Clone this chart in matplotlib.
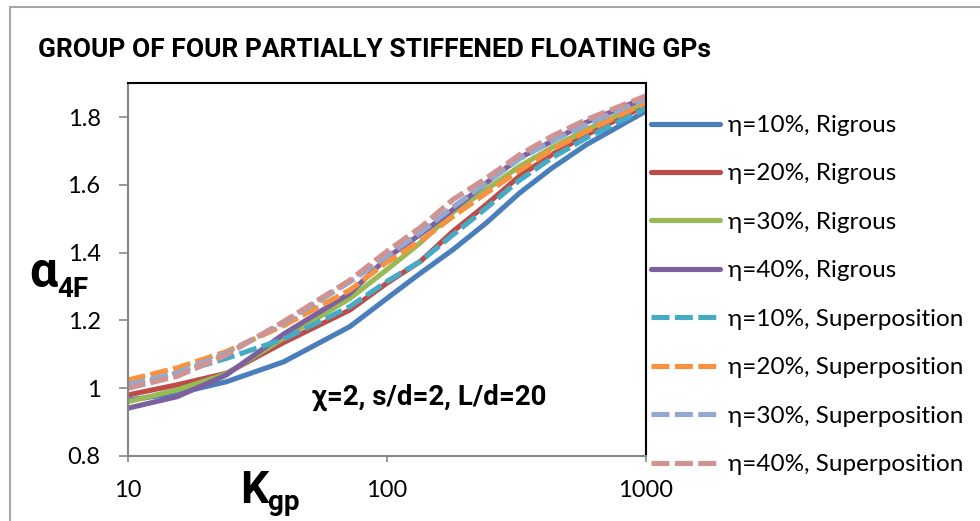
import matplotlib
matplotlib.use("Agg")
import matplotlib.pyplot as plt
from matplotlib.patches import Rectangle
from matplotlib.ticker import FixedLocator, NullLocator, FixedFormatter

W, H = 980, 521

# data
K = [10, 15.5, 24, 40, 72, 100, 135, 180, 242, 325, 434, 589, 1000]

eta10_rig = [0.965, 0.985, 1.019, 1.078, 1.182, 1.265, 1.34, 1.409, 1.488, 1.576, 1.65, 1.719, 1.818]
eta20_rig = [0.98, 1.01, 1.044, 1.135, 1.231, 1.31, 1.375, 1.463, 1.542, 1.626, 1.69, 1.748, 1.835]
eta30_rig = [0.96, 0.995, 1.042, 1.148, 1.265, 1.35, 1.43, 1.52, 1.586, 1.655, 1.71, 1.763, 1.845]
eta40_rig = [0.941, 0.975, 1.039, 1.16, 1.28, 1.385, 1.455, 1.527, 1.606, 1.68, 1.729, 1.785, 1.858]

eta10_sup = [1.0, 1.045, 1.088, 1.145, 1.241, 1.315, 1.375, 1.453, 1.532, 1.614, 1.68, 1.739, 1.826]
eta20_sup = [1.024, 1.06, 1.108, 1.185, 1.29, 1.372, 1.435, 1.507, 1.576, 1.643, 1.704, 1.758, 1.843]
eta30_sup = [1.01, 1.045, 1.103, 1.193, 1.314, 1.39, 1.46, 1.535, 1.606, 1.677, 1.729, 1.778, 1.855]
eta40_sup = [1.0, 1.035, 1.098, 1.197, 1.319, 1.404, 1.475, 1.557, 1.62, 1.689, 1.744, 1.793, 1.863]

labels = ["η=10%, Rigrous", "η=20%, Rigrous", "η=30%, Rigrous", "η=40%, Rigrous",
          "η=10%, Superposition", "η=20%, Superposition",
          "η=30%, Superposition", "η=40%, Superposition"]
series = [eta10_rig, eta20_rig, eta30_rig, eta40_rig,
          eta10_sup, eta20_sup, eta30_sup, eta40_sup]
colors = ["#4a7ebb", "#be4b48", "#98b954", "#7d60a0",
          "#46aac5", "#f69240", "#93a9cf", "#d09392"]

xticks = [10, 100, 1000]
yticks = [0.8, 1.0, 1.2, 1.4, 1.6, 1.8]
yticklabels = ["0.8", "1", "1.2", "1.4", "1.6", "1.8"]

reg = ["Lato", "DejaVu Sans"]
narrow = ["Roboto", "DejaVu Sans"]


def fx(px):
    return px / W


def fy(py):
    return 1 - py / H


fig = plt.figure(figsize=(W / 100, H / 100), dpi=100)
fig.patch.set_facecolor("white")

# outer chart border
fig.patches.append(Rectangle((fx(10), fy(560)), fx(1000), fy(7) - fy(560),
                             transform=fig.transFigure, fill=False,
                             edgecolor="#a6a6a6", lw=1.5))

ax = fig.add_axes([fx(127.7), fy(456), fx(646) - fx(127.7), fy(83.3) - fy(456)])
ax.set_xscale("log")
ax.set_xlim(10, 1000)
ax.set_ylim(0.8, 1.9)

for i, (vals, lab, col) in enumerate(zip(series, labels, colors)):
    if i < 4:
        ax.plot(K, vals, color=col, lw=3.7, label=lab, solid_capstyle="round",
                solid_joinstyle="round")
    else:
        ax.plot(K, vals, color=col, lw=3.7, label=lab, linestyle=(0, (3.5, 1.05)),
                dash_capstyle="butt", dash_joinstyle="round")

ax.xaxis.set_major_locator(FixedLocator(xticks))
ax.xaxis.set_major_formatter(FixedFormatter([str(v) for v in xticks]))
ax.xaxis.set_minor_locator(NullLocator())
ax.set_yticks(yticks)
ax.set_yticklabels(yticklabels)

for s in ["left", "bottom"]:
    ax.spines[s].set_color("#868686")
    ax.spines[s].set_linewidth(1.5)
for s in ["top", "right"]:
    ax.spines[s].set_color("black")
    ax.spines[s].set_linewidth(1.5)

ax.tick_params(axis="both", direction="out", color="#868686", width=1.2,
               labelsize=17, colors="black")
ax.tick_params(axis="y", length=6.5, pad=13)
ax.tick_params(axis="x", length=4, pad=13)
for t in ax.get_xticklabels() + ax.get_yticklabels():
    t.set_fontfamily(reg)
ax.tick_params(axis="both", color="#868686")

# title
fig.text(fx(38), fy(57), "GROUP OF FOUR PARTIALLY STIFFENED FLOATING GPs",
         fontsize=19, fontweight="bold", family=narrow, ha="left", va="baseline")

# annotation
ax.text(fx(312), fy(405), "χ=2, s/d=2, L/d=20", transform=fig.transFigure,
        fontsize=20, fontweight="bold", family=narrow, ha="left", va="baseline")

# axis labels
fig.text(fx(29), fy(287), "α", fontsize=36, fontweight="bold", family=narrow,
         ha="left", va="baseline")
fig.text(fx(57), fy(297), "4F", fontsize=20, fontweight="bold", family=narrow,
         ha="left", va="baseline")
fig.text(fx(240), fy(503), "K", fontsize=32, fontweight="bold", family=narrow,
         ha="left", va="baseline")
fig.text(fx(268), fy(510), "gp", fontsize=20, fontweight="bold", family=narrow,
         ha="left", va="baseline")

leg = ax.legend(loc="upper left", bbox_to_anchor=(fx(651), fy(115)),
                bbox_transform=fig.transFigure, frameon=False,
                prop={"family": reg, "size": 17.5}, handlelength=2.85,
                handletextpad=0.3, labelspacing=1.13, borderpad=0,
                borderaxespad=0)

fig.savefig("out.png", dpi=100)
